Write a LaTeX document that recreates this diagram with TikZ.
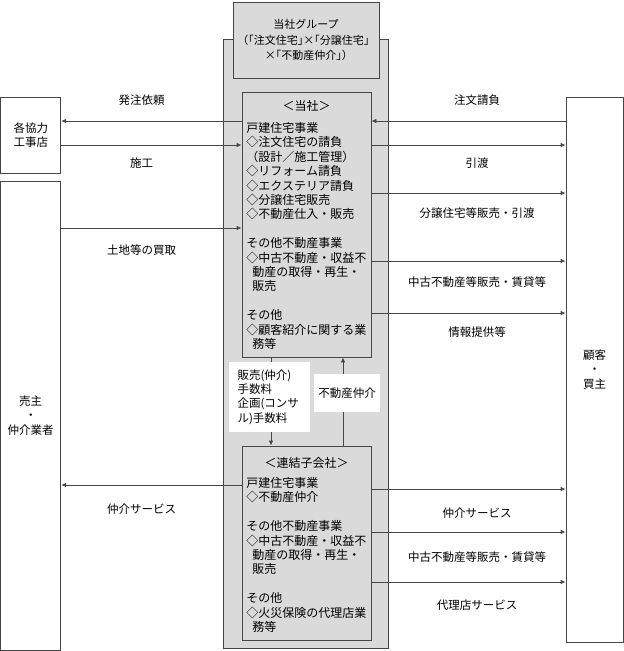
\documentclass[tikz,border=0pt]{standalone}
\usepackage{fontspec}
\setmainfont{Noto Sans CJK JP}
\newfontfamily\halffont[RawFeature=+halt]{Noto Sans CJK JP}
\usetikzlibrary{arrows.meta}
\definecolor{groupgray}{RGB}{218,218,218}
\definecolor{framegray}{RGB}{70,70,70}

\begin{document}
\begin{tikzpicture}[x=1pt, y=-1pt, >={Latex[length=5pt, width=4.5pt]}, line width=0.8pt,
        font=\fontsize{11.5pt}{14.4pt}\selectfont]
        \useasboundingbox (0,0) rectangle (624,651);
        % the group and its two companies
        \begin{scope}[every node/.style = {draw=framegray, fill=groupgray, inner sep=0pt}]
            \node[minimum width=165, minimum height=609] (group) at (305.5, 343.5) {};
            \node[minimum width=146, minimum height=76, align=center,
                font=\halffont\fontsize{11pt}{15.5pt}\selectfont] (head) at (306, 40)
                {当社グループ\\（「注文住宅」×「分譲住宅」\\×「不動産仲介」）};
            \node[minimum width=129, minimum height=265] (tosha) at (306.5, 224.5) {};
            \node[minimum width=129, minimum height=194] (renketsu) at (306.5, 543) {};
        \end{scope}
        % outside parties
        \begin{scope}[every node/.style = {draw=framegray, fill=white, inner sep=0pt, align=center}]
            \node[minimum width=60, minimum height=76] (kyoryoku) at (30.75, 135) {各協力\\工事店};
            \node[minimum width=60, minimum height=469] (urinushi) at (30.75, 415.5) {売主\\・\\仲介業者};
            \node[minimum width=57, minimum height=545] (kokyaku) at (594.5, 369.5) {顧客\\・\\買主};
        \end{scope}
        % business lists
        \begin{scope}[every node/.style = {inner sep=0pt, font=\fontsize{12pt}{14.4pt}\selectfont}]
            \node (toshattl) at (306.5, 106) {＜当社＞};
            \node[anchor=north west, text width=125, align=left] (toshabody) at (246, 122)
                {戸建住宅事業\\◇注文住宅の請負\\（設計／施工管理）\\◇リフォーム請負\\◇エクステリア請負\\◇分譲住宅販売\\◇不動産仕入・販売\\[14.4pt]
                その他不動産事業\\◇中古不動産・収益不\\\hspace*{0.5em}動産の取得・再生・\\\hspace*{0.5em}販売\\[14.4pt]
                その他\\◇顧客紹介に関する業\\\hspace*{0.5em}務等};
            \node (renketsuttl) at (306.5, 463) {＜連結子会社＞};
            \node[anchor=north west, text width=125, align=left] (renketsubody) at (246, 477)
                {戸建住宅事業\\◇不動産仲介\\[14.4pt]
                その他不動産事業\\◇中古不動産・収益不\\\hspace*{0.5em}動産の取得・再生・\\\hspace*{0.5em}販売\\[14.4pt]
                その他\\◇火災保険の代理店業\\\hspace*{0.5em}務等};
        \end{scope}
        % levels of the flows
        \coordinate (hachu) at (0, 121);
        \coordinate (seko) at (0, 145);
        \coordinate (kaitori) at (0, 228);
        \coordinate (chukaiL) at (0, 485);
        \coordinate (ukeoi) at (0, 121);
        \coordinate (hikiwatashi) at (0, 145);
        \coordinate (bunjo) at (0, 193);
        \coordinate (chuko) at (0, 261);
        \coordinate (joho) at (0, 313);
        \coordinate (chukaiR) at (0, 489);
        \coordinate (chukoR) at (0, 532);
        \coordinate (dairi) at (0, 582);
        \coordinate (tesuryo) at (271, 0);
        \coordinate (chukai) at (343, 0);
        \begin{scope}[draw=framegray]
        \draw[->] (tosha.west |- hachu) -- (kyoryoku.east |- hachu);
        \draw[->] (kyoryoku.east |- seko) -- (tosha.west |- seko);
        \draw[->] (urinushi.east |- kaitori) -- (tosha.west |- kaitori);
        \draw[->] (renketsu.west |- chukaiL) -- (urinushi.east |- chukaiL);
        \draw[->] (kokyaku.west |- ukeoi) -- (tosha.east |- ukeoi);
        \draw[->] (tosha.east |- hikiwatashi) -- (kokyaku.west |- hikiwatashi);
        \draw[->] (tosha.east |- bunjo) -- (kokyaku.west |- bunjo);
        \draw[->] (tosha.east |- chuko) -- (kokyaku.west |- chuko);
        \draw[->] (tosha.east |- joho) -- (kokyaku.west |- joho);
        \draw[->] (renketsu.east |- chukaiR) -- (kokyaku.west |- chukaiR);
        \draw[->] (renketsu.east |- chukoR) -- (kokyaku.west |- chukoR);
        \draw[->] (renketsu.east |- dairi) -- (kokyaku.west |- dairi);
        \draw[->] (tosha.south -| tesuryo) -- (renketsu.north -| tesuryo);
        \draw[->] (renketsu.north -| chukai) -- (tosha.south -| chukai);
        \end{scope}
        % flow labels
        \begin{scope}[every node/.style = {inner sep=0pt}]
            \node (lblhachu) at (141.5, 100) {発注依頼};
            \node (lblseko) at (141.5, 163) {施工};
            \node (lblkaitori) at (141.5, 250) {土地等の買取};
            \node (lblchukaiL) at (141.5, 509) {仲介サービス};
            \node (lblukeoi) at (477, 100) {注文請負};
            \node (lblhikiwatashi) at (477, 163) {引渡};
            \node (lblbunjo) at (477, 213) {分譲住宅等販売・引渡};
            \node (lblchuko) at (477, 282) {中古不動産等販売・賃貸等};
            \node (lbljoho) at (477, 332) {情報提供等};
            \node (lblchukaiR) at (477, 513) {仲介サービス};
            \node (lblchukoR) at (477, 557) {中古不動産等販売・賃貸等};
            \node (lbldairi) at (477, 605) {代理店サービス};
        \end{scope}
        \begin{scope}[every node/.style = {fill=white, inner sep=0pt}]
            \node[minimum width=81, minimum height=70, text width=64, align=left] (lbltesuryo) at (269.5, 397)
                {販売(仲介)\\手数料\\企画(コンサ\\ル)手数料};
            \node[minimum width=66, minimum height=38] (lblchukai) at (347, 393) {不動産仲介};
        \end{scope}
    \end{tikzpicture}
\end{document}
